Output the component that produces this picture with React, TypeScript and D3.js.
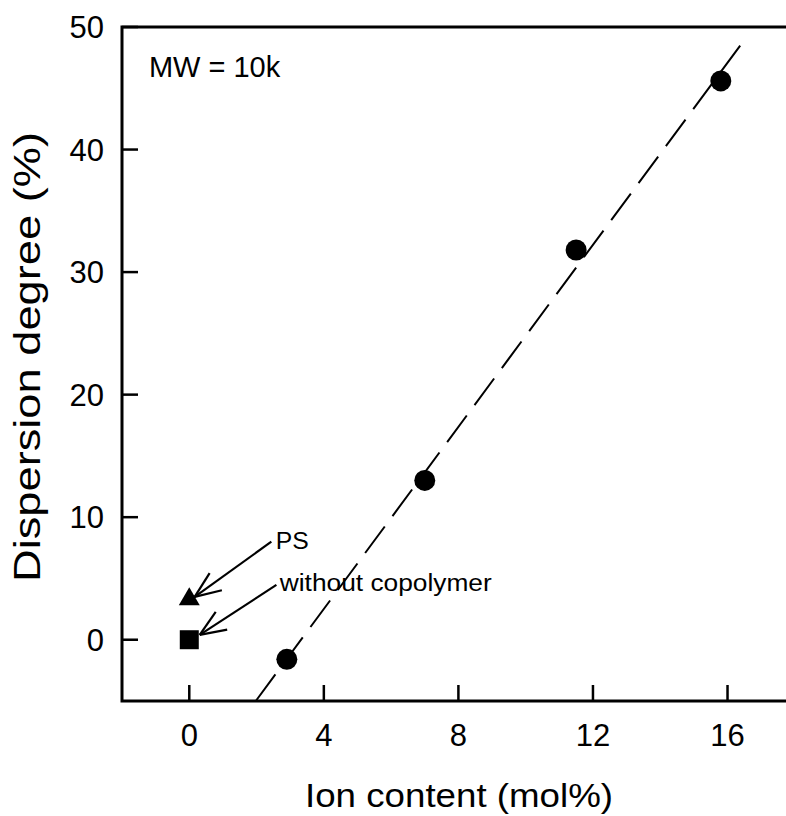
import React, { useEffect, useRef } from "react";
import * as d3 from "d3";

// ion content (mol%) vs dispersion degree (%)
const ionContent = [2.9, 7.0, 11.5, 15.8];
const dispersion = [-1.6, 13.0, 31.8, 45.6];

// reference samples at 0 mol%
const psPoint = { x: 0, y: 3.3 };
const blankPoint = { x: 0, y: 0 };

const xTicks = [0, 4, 8, 12, 16];
const yTicks = [0, 10, 20, 30, 40, 50];

// annotation: label position, arrow start, arrow tip (data units)
const notes = [
  { label: "PS", tx: 2.57, ty: 7.4, x1: 2.44, y1: 8.0, x2: 0.16, y2: 3.5, len: 33 },
  { label: "without copolymer", tx: 2.69, ty: 3.95, x1: 2.59, y1: 4.47, x2: 0.31, y2: 0.39, len: 212 },
];

const FONT = "'Liberation Sans', Arial, sans-serif";

function ScatterChart() {
  const svgRef = useRef(null);

  useEffect(() => {
    const svg = d3.select(svgRef.current);
    svg.selectAll("*").remove();

    const xScale = d3.scaleLinear().domain([-2, 18]).range([122, 794.8]);
    const yScale = d3.scaleLinear().domain([-5, 50]).range([701, 27]);

    // frame (left, top, bottom; right edge falls off the picture)
    svg
      .append("rect")
      .attr("x", xScale(-2))
      .attr("y", yScale(50))
      .attr("width", xScale(18) - xScale(-2))
      .attr("height", yScale(-5) - yScale(50))
      .attr("fill", "none")
      .attr("stroke", "black")
      .attr("stroke-width", 3);

    // inward ticks
    svg
      .selectAll(".xtick")
      .data(xTicks)
      .enter()
      .append("line")
      .attr("x1", (d) => xScale(d))
      .attr("x2", (d) => xScale(d))
      .attr("y1", yScale(-5))
      .attr("y2", yScale(-5) - 16)
      .attr("stroke", "black")
      .attr("stroke-width", 2.5);

    svg
      .selectAll(".xlabel")
      .data(xTicks)
      .enter()
      .append("text")
      .attr("x", (d) => xScale(d))
      .attr("y", yScale(-5) + 45)
      .attr("text-anchor", "middle")
      .attr("font-family", FONT)
      .attr("font-size", 31)
      .text((d) => d);

    svg
      .selectAll(".ytick")
      .data(yTicks)
      .enter()
      .append("line")
      .attr("x1", xScale(-2))
      .attr("x2", xScale(-2) + 16)
      .attr("y1", (d) => yScale(d))
      .attr("y2", (d) => yScale(d))
      .attr("stroke", "black")
      .attr("stroke-width", 2.5);

    svg
      .selectAll(".ylabel")
      .data(yTicks)
      .enter()
      .append("text")
      .attr("x", xScale(-2) - 18)
      .attr("y", (d) => yScale(d) + 11)
      .attr("text-anchor", "end")
      .attr("font-family", FONT)
      .attr("font-size", 31)
      .text((d) => d);

    // axis titles
    svg
      .append("text")
      .attr("x", 305)
      .attr("y", 807)
      .attr("font-family", FONT)
      .attr("font-size", 33)
      .attr("textLength", 308)
      .attr("lengthAdjust", "spacingAndGlyphs")
      .text("Ion content (mol%)");

    svg
      .append("text")
      .attr("transform", "translate(40,582) rotate(-90)")
      .attr("font-family", FONT)
      .attr("font-size", 37)
      .attr("textLength", 450)
      .attr("lengthAdjust", "spacingAndGlyphs")
      .text("Dispersion degree (%)");

    // least-squares line through the circles
    const pts = ionContent.map((x, i) => ({ x, y: dispersion[i] }));
    const mx = d3.mean(pts, (d) => d.x);
    const my = d3.mean(pts, (d) => d.y);
    const slope =
      d3.sum(pts, (d) => (d.x - mx) * (d.y - my)) /
      d3.sum(pts, (d) => (d.x - mx) * (d.x - mx));
    const intercept = my - slope * mx;
    const xStart = (-5 - intercept) / slope;
    const xEnd = (49.2 - intercept) / slope;
    const fit = [xStart, xEnd].map((x) => ({ x, y: intercept + slope * x }));

    svg
      .append("path")
      .datum(fit)
      .attr(
        "d",
        d3
          .line()
          .x((d) => xScale(d.x))
          .y((d) => yScale(d.y))
      )
      .attr("fill", "none")
      .attr("stroke", "black")
      .attr("stroke-width", 2)
      .attr("stroke-dasharray", "33,13");

    svg
      .selectAll(".dot")
      .data(pts)
      .enter()
      .append("circle")
      .attr("cx", (d) => xScale(d.x))
      .attr("cy", (d) => yScale(d.y))
      .attr("r", 10.5)
      .attr("fill", "black");

    svg
      .append("path")
      .attr("d", d3.symbol(d3.symbolTriangle, 190)())
      .attr("transform", `translate(${xScale(psPoint.x)},${yScale(psPoint.y)})`)
      .attr("fill", "black");

    svg
      .append("path")
      .attr("d", d3.symbol(d3.symbolSquare, 361)())
      .attr("transform", `translate(${xScale(blankPoint.x)},${yScale(blankPoint.y)})`)
      .attr("fill", "black");

    svg
      .append("text")
      .attr("x", xScale(-1.2))
      .attr("y", yScale(45.95))
      .attr("font-family", FONT)
      .attr("font-size", 29)
      .text("MW = 10k");

    // annotations with open arrowheads
    notes.forEach((n) => {
      const sx = xScale(n.x1);
      const sy = yScale(n.y1);
      const ex = xScale(n.x2);
      const ey = yScale(n.y2);
      const ang = Math.atan2(sy - ey, sx - ex);
      const head = 28;
      const spread = (22 * Math.PI) / 180;
      const g = svg
        .append("g")
        .attr("stroke", "black")
        .attr("stroke-width", 2.2)
        .attr("fill", "none");
      g.append("line").attr("x1", sx).attr("y1", sy).attr("x2", ex).attr("y2", ey);
      [-spread, spread].forEach((s) => {
        g.append("line")
          .attr("x1", ex)
          .attr("y1", ey)
          .attr("x2", ex + head * Math.cos(ang + s))
          .attr("y2", ey + head * Math.sin(ang + s));
      });
      svg
        .append("text")
        .attr("x", xScale(n.tx))
        .attr("y", yScale(n.ty))
        .attr("font-family", FONT)
        .attr("font-size", 23)
        .attr("textLength", n.len)
        .attr("lengthAdjust", "spacingAndGlyphs")
        .text(n.label);
    });
  }, []);

  return (
    <svg
      ref={svgRef}
      width={786}
      height={816}
      style={{ position: "absolute", left: 0, top: 0, background: "white" }}
    />
  );
}

export default function App() {
  return <ScatterChart />;
}
